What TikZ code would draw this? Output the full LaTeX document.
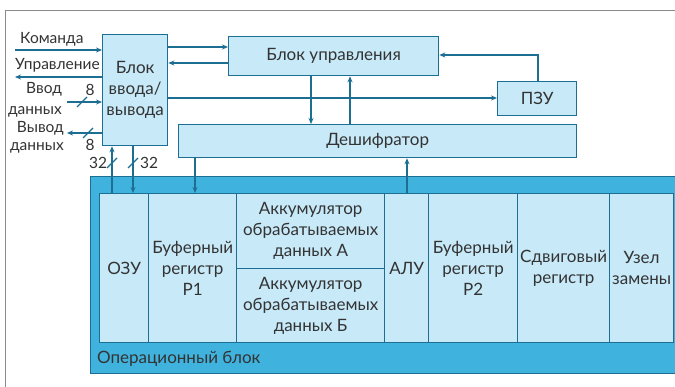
\documentclass[tikz,border=0pt]{standalone}
\usepackage{fontspec}
\setmainfont{Lato}
\usetikzlibrary{arrows.meta}
\definecolor{lineblue}{HTML}{1C6F93}
\definecolor{boxfill}{HTML}{C7E9F8}
\definecolor{opfill}{HTML}{3FB3DE}
\definecolor{txt}{HTML}{333333}
\definecolor{frame}{HTML}{8A8A8A}
\tikzset{
  box/.style={draw=lineblue, fill=boxfill, line width=1.3pt, anchor=north west, inner sep=0pt,
    text=txt, align=center, font=\fontsize{17}{21}\selectfont},
  arr/.style={draw=lineblue, line width=1.4pt, -{Stealth[length=6pt,width=5pt]}},
  ln/.style={draw=lineblue, line width=1.4pt},
  slash/.style={draw=lineblue, line width=1.1pt},
  lbl/.style={text=txt, font=\fontsize{15.5}{21}\selectfont, inner sep=0pt},
}
\begin{document}
\begin{tikzpicture}[x=1pt,y=-1pt]
\useasboundingbox (0,0) rectangle (675,387);
% frame
\draw[frame, line width=1.6pt] (5.5,387) -- (5.5,10.5) -- (675,10.5);
% operational block
\node[box, fill=opfill, minimum width=600, minimum height=197] (op) at (90,176) {};
\node[lbl, anchor=west, font=\fontsize{17}{21}\selectfont] (oplbl) at (97,359) {Операционный блок};
% cells
\node[box, minimum width=49, minimum height=149] (ozu) at (99,193) {ОЗУ};
\node[box, minimum width=88, minimum height=149] (p1) at (148,193) {Буферный\\регистр\\Р1};
\node[box, minimum width=148, minimum height=75] (acca) at (236,193) {Аккумулятор\\обрабатываемых\\данных А};
\node[box, minimum width=148, minimum height=74] (accb) at (236,268) {Аккумулятор\\обрабатываемых\\данных Б};
\node[box, minimum width=44, minimum height=149] (alu) at (384,193) {АЛУ};
\node[box, minimum width=89, minimum height=149] (p2) at (428,193) {Буферный\\регистр\\Р2};
\node[box, minimum width=92, minimum height=149] (sdv) at (517,193) {Сдвиговый\\регистр};
\node[box, minimum width=64, minimum height=149] (uz) at (609,193) {Узел\\замены};
% upper boxes
\node[box, minimum width=65, minimum height=111] (io) at (102,34) {Блок\\ввода/\\вывода};
\node[box, minimum width=210, minimum height=39] (bu) at (228,36) {Блок управления};
\node[box, minimum width=79, minimum height=34] (pzu) at (497,81) {ПЗУ};
\node[box, minimum width=398, minimum height=33] (des) at (178,124) {Дешифратор};
% left signals
\coordinate (c1) at (15,50);
\coordinate (c2) at (15,77);
\coordinate (c3) at (67,102);
\coordinate (c4) at (67,133);
\node[lbl, anchor=south west] (tk) at (20,46) {Команда};
\node[lbl, anchor=south west] (tu) at (15,72) {Управление};
\node[lbl, anchor=east, align=right] (tv) at (62,100) {Ввод\\данных};
\node[lbl, anchor=east, align=right, font=\fontsize{15.5}{18}\selectfont] (to) at (64,137) {Вывод\\данных};
\draw[arr] (c1) -- (c1 -| io.west);
\draw[arr] (c2 -| io.west) -- (c2);
\draw[arr] (c3) -- (c3 -| io.west);
\draw[arr] (c4 -| io.west) -- (c4);
\draw[slash] (77,107) -- (87,97);
\node[lbl] (n8a) at (90,90) {8};
\draw[slash] (83,138) -- (93,128);
\node[lbl] (n8b) at (90,145) {8};
% io <-> bu
\coordinate (y47) at (0,47);
\coordinate (y63) at (0,63);
\coordinate (y98) at (0,98);
\draw[arr] (io.east |- y47) -- (bu.west |- y47);
\draw[arr] (bu.west |- y63) -- (io.east |- y63);
\draw[arr] (io.east |- y98) -- (pzu.west |- y98);
% bu <-> des
\coordinate (x311) at (311,0);
\coordinate (x350) at (350,0);
\draw[arr] (bu.south -| x311) -- (des.north -| x311);
\draw[arr] (des.north -| x350) -- (bu.south -| x350);
% pzu -> bu
\coordinate (x538) at (538,0);
\coordinate (y55) at (0,55);
\draw[arr] (pzu.north -| x538) -- (x538 |- y55) -- (bu.east |- y55);
% des -> p1, alu -> des
\coordinate (x195) at (195,0);
\coordinate (x407) at (407,0);
\draw[arr] (des.south -| x195) -- (p1.north -| x195);
\draw[arr] (alu.north -| x407) -- (des.south -| x407);
% ozu <-> io
\coordinate (x112) at (112,0);
\coordinate (x133) at (133,0);
\draw[arr] (ozu.north -| x112) -- (io.south -| x112);
\draw[arr] (io.south -| x133) -- (ozu.north -| x133);
\draw[slash] (107,168) -- (117,158);
\draw[slash] (128,168) -- (138,158);
\node[lbl] (n32a) at (98,163) {32};
\node[lbl] (n32b) at (149,163) {32};
\end{tikzpicture}
\end{document}
